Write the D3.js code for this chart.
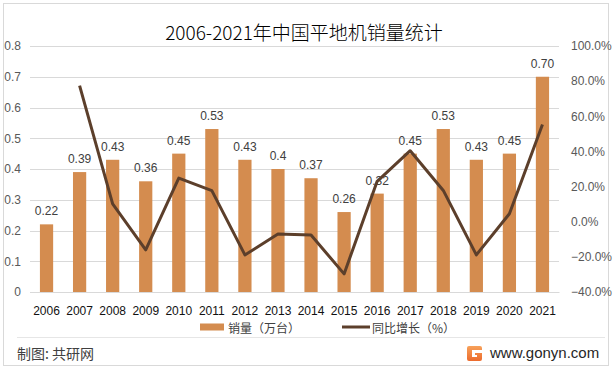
<!DOCTYPE html>
<html><head><meta charset="utf-8">
<script src="https://cdn.jsdelivr.net/npm/d3@7"></script>
<style>
html,body{margin:0;padding:0;background:#fff;}
svg{display:block;font-family:"Liberation Sans","Noto Sans CJK SC",sans-serif;}
</style></head>
<body><svg id="c" width="613" height="371"></svg>
<script>
const years = ["2006","2007","2008","2009","2010","2011","2012","2013","2014","2015","2016","2017","2018","2019","2020","2021"];
const sales = [0.22,0.39,0.43,0.36,0.45,0.53,0.43,0.40,0.37,0.26,0.32,0.45,0.53,0.43,0.45,0.70];
const salesLabels = ["0.22","0.39","0.43","0.36","0.45","0.53","0.43","0.4","0.37","0.26","0.32","0.45","0.53","0.43","0.45","0.70"];
const growth = [null,77.5,10.2,-16.0,24.8,17.7,-18.9,-7.0,-7.6,-29.7,23.0,40.4,17.8,-18.9,4.5,55.3];
const leftTicks = [0,0.1,0.2,0.3,0.4,0.5,0.6,0.7,0.8];
const rightTicks = [-40,-20,0,20,40,60,80,100];
const title = "2006-2021年中国平地机销量统计";
const legendNames = ["销量（万台）","同比增长（%）"];

const svg = d3.select("#c");
const barColor = "#d48c4f", lineColor = "#5c3f2b", gridColor = "#d9d9d9";

// outer border
svg.append("rect").attr("x",3.5).attr("y",3.5).attr("width",605).attr("height",362)
  .attr("fill","none").attr("stroke","#d9d9d9");

const x = d3.scaleBand().domain(years).range([30,559]).paddingInner(0.6).paddingOuter(0.3);
const yL = d3.scaleLinear().domain([0,0.8]).range([292,46]);
const yR = d3.scaleLinear().domain([-40,100]).range([292,46]);

// title
svg.append("text").attr("x",304).attr("y",31.5).attr("text-anchor","middle")
  .attr("dominant-baseline","central").attr("font-size",19).attr("fill","#000")
  .attr("font-weight",300)
  .attr("font-family","'Noto Sans CJK SC',sans-serif")
  .text(title);

// gridlines
svg.append("g").selectAll("line").data(leftTicks).join("line")
  .attr("x1",30).attr("x2",559).attr("y1",d=>Math.round(yL(d))+0.5).attr("y2",d=>Math.round(yL(d))+0.5)
  .attr("stroke",gridColor).attr("stroke-width",1);

// left axis
const gl = svg.append("g").attr("transform","translate(21,0)")
  .call(d3.axisLeft(yL).tickValues(leftTicks).tickSize(0).tickPadding(0).tickFormat(d=>d===0?"0":d3.format(".1f")(d)));
gl.select(".domain").remove();
gl.selectAll("text").attr("font-size",12).attr("fill","#595959").attr("font-family","inherit");

// right axis
const gr = svg.append("g").attr("transform","translate(571,0)")
  .call(d3.axisRight(yR).tickValues(rightTicks).tickSize(0).tickPadding(0).tickFormat(d=>d3.format(".1f")(d)+"%"));
gr.select(".domain").remove();
gr.selectAll("text").attr("font-size",12).attr("fill","#595959").attr("font-family","inherit");

// bottom axis
const gb = svg.append("g").attr("transform","translate(0,292)")
  .call(d3.axisBottom(x).tickSize(0).tickPadding(14));
gb.select(".domain").attr("stroke",gridColor);
gb.selectAll("text").attr("font-size",12).attr("fill","#111").attr("font-family","inherit");

// bars
svg.append("g").selectAll("rect").data(sales).join("rect")
  .attr("x",(d,i)=>x(years[i])).attr("width",x.bandwidth())
  .attr("y",d=>yL(d)).attr("height",d=>yL(0)-yL(d)).attr("fill",barColor);

// bar labels
svg.append("g").selectAll("text").data(sales).join("text")
  .attr("x",(d,i)=>x(years[i])+x.bandwidth()/2).attr("y",d=>yL(d)-13)
  .attr("text-anchor","middle").attr("dominant-baseline","central")
  .attr("font-size",12).attr("fill","#404040").text((d,i)=>salesLabels[i]);

// growth line
const pts = growth.map((g,i)=>({g, yr:years[i]})).filter(p=>p.g!==null);
svg.append("path").datum(pts)
  .attr("d",d3.line().x(p=>x(p.yr)+x.bandwidth()/2).y(p=>yR(p.g)))
  .attr("fill","none").attr("stroke",lineColor).attr("stroke-width",3)
  .attr("stroke-linejoin","round");

// legend
const lg = svg.append("g");
lg.append("rect").attr("x",200).attr("y",323.5).attr("width",24).attr("height",7).attr("fill",barColor);
lg.append("text").attr("x",228).attr("y",327).attr("dominant-baseline","central")
  .attr("font-size",12).attr("fill","#404040").attr("font-family","'Noto Sans CJK SC',sans-serif").text(legendNames[0]);
lg.append("line").attr("x1",342).attr("x2",370).attr("y1",327).attr("y2",327)
  .attr("stroke",lineColor).attr("stroke-width",3);
lg.append("text").attr("x",372).attr("y",327).attr("dominant-baseline","central")
  .attr("font-size",12).attr("fill","#404040").attr("font-family","'Noto Sans CJK SC',sans-serif").text(legendNames[1]);

// footer
svg.append("line").attr("x1",17).attr("x2",605).attr("y1",337.5).attr("y2",337.5).attr("stroke","#e6e6e6");
svg.append("text").attr("x",17).attr("y",353).attr("dominant-baseline","central")
  .attr("font-size",14).attr("fill","#404040").attr("font-family","'Noto Sans CJK SC',sans-serif").text("制图: 共研网");
const logo = svg.append("g").attr("transform","translate(467,346)");
const grad = svg.append("defs").append("linearGradient").attr("id","lg1").attr("x1",0).attr("y1",0).attr("x2",0).attr("y2",1);
grad.append("stop").attr("offset",0).attr("stop-color","#f7a15a");
grad.append("stop").attr("offset",1).attr("stop-color","#ec6b2d");
logo.append("path").attr("d","M2,0 H13 Q15,0 15,2 V4 H5 V11 H10 V9 H8 V7 H15 V13 Q15,15 13,15 H2 Q0,15 0,13 V2 Q0,0 2,0 Z")
  .attr("fill","url(#lg1)");
svg.append("text").attr("x",490).attr("y",352).attr("dominant-baseline","central")
  .attr("font-size",15).attr("fill","#262626").text("www.gonyn.com");
</script></body></html>
